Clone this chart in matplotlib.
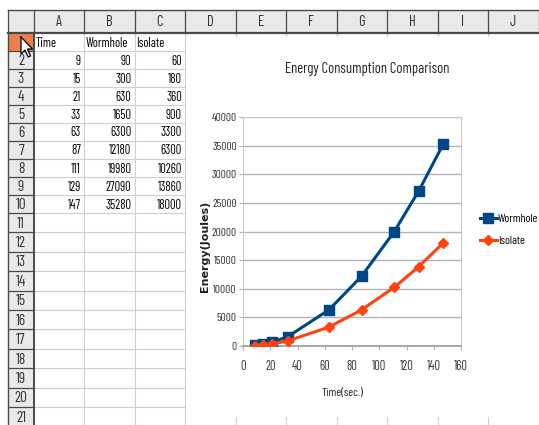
import matplotlib
matplotlib.use("Agg")
import matplotlib.pyplot as plt
from matplotlib import font_manager
from matplotlib.patches import Rectangle, Polygon

# sheet contents
headers = ["Time", "Wormhole", "Isolate"]
time_s = [9, 15, 21, 33, 63, 87, 111, 129, 147]
wormhole = [90, 300, 630, 1650, 6300, 12180, 19980, 27090, 35280]
isolate = [60, 180, 360, 900, 3300, 6300, 10260, 13860, 18000]
col_letters = ["A", "B", "C", "D", "E", "F", "G", "H", "I", "J"]
n_rows = 21

x_ticks = [0, 20, 40, 60, 80, 100, 120, 140, 160]
y_ticks = [0, 5000, 10000, 15000, 20000, 25000, 30000, 35000, 40000]

# condensed sans, like the spreadsheet UI
installed = {f.name for f in font_manager.fontManager.ttflist}
narrow = next((n for n in ["Barlow Condensed", "Archivo Narrow"] if n in installed), "DejaVu Sans")
plt.rcParams["font.family"] = [narrow, "DejaVu Sans"]

W, H = 539, 425
fig = plt.figure(figsize=(W / 100, H / 100), dpi=100)

# ---- spreadsheet background (pixel coordinates) ----
sheet = fig.add_axes([0, 0, 1, 1])
sheet.set_xlim(0, W)
sheet.set_ylim(H, 0)
sheet.axis("off")

col_x = [8, 33.5] + [33.5 + 50.5 * (i + 1) for i in range(len(col_letters))]
row_y = [10, 33] + [33 + 18 * (i + 1) for i in range(10)] + [213 + 19.4 * (i + 1) for i in range(n_rows - 10)]

grid_c = "#cfcfcf"
head_c = "#e9e9e9"
edge_c = "#4a4a4a"

for x in col_x[2:]:
    sheet.plot([x, x], [33, H], color=grid_c, lw=0.8, zorder=1)
for y in row_y[2:]:
    sheet.plot([33.5, W], [y, y], color=grid_c, lw=0.8, zorder=1)

# header row and row-number column
sheet.add_patch(Rectangle((8, 10), W - 8, 23, facecolor=head_c, edgecolor="none", zorder=2))
sheet.add_patch(Rectangle((8, 33), 25.5, H - 33, facecolor=head_c, edgecolor="none", zorder=2))
sheet.add_patch(Rectangle((8, 33), 25.5, 18, facecolor="#ee7e4c", edgecolor="none", zorder=2))

sheet.plot([8, W], [10, 10], color=edge_c, lw=1.0, zorder=3)
sheet.plot([8, W], [33, 33], color=edge_c, lw=1.6, zorder=3)
for x in col_x[:]:
    sheet.plot([x, x], [10, 33], color=edge_c, lw=0.9, zorder=3)
sheet.plot([8, 8], [33, H], color=edge_c, lw=1.0, zorder=3)
sheet.plot([33.5, 33.5], [33, H], color=edge_c, lw=1.4, zorder=3)
for y in row_y[2:]:
    sheet.plot([8, 33.5], [y, y], color=edge_c, lw=0.9, zorder=3)

for i, letter in enumerate(col_letters):
    sheet.text((col_x[i + 1] + col_x[i + 2]) / 2, 22, letter, ha="center", va="center",
               fontsize=10.5, color="#333333", zorder=4)
for r in range(n_rows):
    sheet.text(21, (row_y[r + 1] + row_y[r + 2]) / 2 + 1, str(r + 1), ha="center", va="center",
               fontsize=11, color="#333333", zorder=4)

def cell_mid(r):
    return (row_y[r + 1] + row_y[r + 2]) / 2 + 1

for c, name in enumerate(headers):
    sheet.text(col_x[c + 1] + 2, cell_mid(0), name, ha="left", va="center", fontsize=9, zorder=4)
for r in range(len(time_s)):
    for c, val in enumerate([time_s[r], wormhole[r], isolate[r]]):
        sheet.text(col_x[c + 2] - 3, cell_mid(r + 1), str(val), ha="right", va="center",
                   fontsize=9, zorder=4)

# mouse pointer over row 1
tip_x, tip_y = 21, 37
ptr = [(0, 0), (0, 17), (4, 13), (7, 20), (9.5, 19), (6.5, 12), (11.5, 12)]
sheet.add_patch(Polygon([(tip_x + a, tip_y + b) for a, b in ptr], closed=True,
                        facecolor="white", edgecolor="black", lw=0.9, zorder=6))

# chart area hides the cell grid
sheet.add_patch(Rectangle((186, 37), W - 186, 380, facecolor="white", edgecolor="none", zorder=5))

# ---- chart ----
ax = fig.add_axes([243 / W, (H - 346) / H, 218 / W, 229 / H])
ax.set_zorder(10)
ax.plot(time_s, wormhole, color="#004586", lw=2.2, marker="s", ms=7, label="Wormhole", zorder=3)
ax.plot(time_s, isolate, color="#ff420e", lw=2.2, marker="D", ms=5.5, label="Isolate", zorder=3)

ax.set_xlim(0, 160)
ax.set_ylim(0, 40000)
ax.set_xticks(x_ticks)
ax.set_yticks(y_ticks)
ax.grid(axis="y", color="#b3b3b3", lw=1.0)
ax.set_axisbelow(True)
for side in ["left", "right", "top"]:
    ax.spines[side].set_color("#c8c8c8")
ax.spines["bottom"].set_color("#a0a0a0")
ax.spines["bottom"].set_linewidth(1.3)
ax.tick_params(axis="y", length=3, pad=1.5, color="#b3b3b3", labelsize=8.2, labelcolor="#333333")
ax.tick_params(axis="x", length=3, pad=7, color="#b3b3b3", labelsize=9, labelcolor="#333333")

fig.text(367 / W, 1 - 69 / H, "Energy Consumption Comparison", ha="center", va="center",
         fontsize=10.5, color="#222222")
fig.text(205 / W, 1 - 246 / H, "Energy(Joules)", rotation=90, ha="center", va="center",
         fontsize=8, fontweight="bold", family="DejaVu Sans", color="#222222")
fig.text(343 / W, 1 - 393 / H, "Time(sec.)", ha="center", va="center", fontsize=8.5, color="#222222")

ax.legend(loc="center left", bbox_to_anchor=(475 / W, 1 - 230 / H), bbox_transform=fig.transFigure,
          frameon=False, fontsize=8.5, handlelength=1.45, handletextpad=0.1, labelspacing=1.0,
          borderaxespad=0, numpoints=1)

fig.savefig("out.png", dpi=100)
